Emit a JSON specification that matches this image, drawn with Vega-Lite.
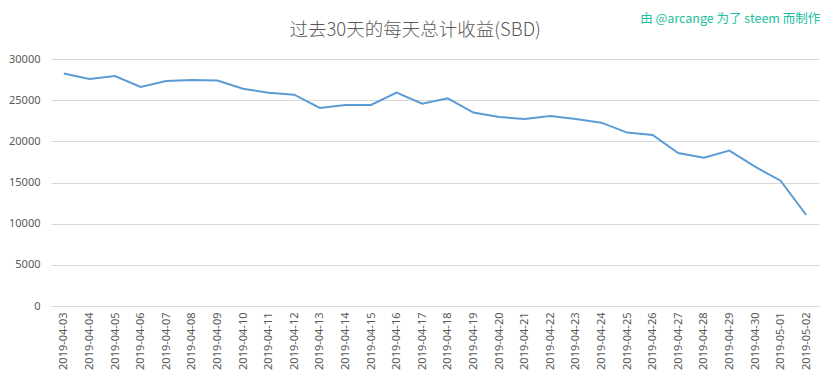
{
  "$schema": "https://vega.github.io/schema/vega-lite/v6.json",
  "width": 768,
  "height": 247,
  "autosize": {"type": "none"},
  "padding": {"left": 51, "top": 59, "right": 14, "bottom": 73},
  "background": "white",
  "config": {
    "view": {"stroke": null},
    "axis": {
      "labelFont": "Noto Sans",
      "labelFontSize": 11,
      "labelColor": "#595959",
      "ticks": false,
      "title": null,
      "gridColor": "#d9d9d9",
      "domainColor": "#d9d9d9"
    }
  },
  "datasets": {
    "earn": [
      {"date": "2019-04-03", "sbd": 28250},
      {"date": "2019-04-04", "sbd": 27570},
      {"date": "2019-04-05", "sbd": 27940},
      {"date": "2019-04-06", "sbd": 26600},
      {"date": "2019-04-07", "sbd": 27330},
      {"date": "2019-04-08", "sbd": 27450},
      {"date": "2019-04-09", "sbd": 27380},
      {"date": "2019-04-10", "sbd": 26380},
      {"date": "2019-04-11", "sbd": 25900},
      {"date": "2019-04-12", "sbd": 25670},
      {"date": "2019-04-13", "sbd": 24050},
      {"date": "2019-04-14", "sbd": 24410},
      {"date": "2019-04-15", "sbd": 24410},
      {"date": "2019-04-16", "sbd": 25910},
      {"date": "2019-04-17", "sbd": 24580},
      {"date": "2019-04-18", "sbd": 25230},
      {"date": "2019-04-19", "sbd": 23490},
      {"date": "2019-04-20", "sbd": 22960},
      {"date": "2019-04-21", "sbd": 22710},
      {"date": "2019-04-22", "sbd": 23080},
      {"date": "2019-04-23", "sbd": 22710},
      {"date": "2019-04-24", "sbd": 22270},
      {"date": "2019-04-25", "sbd": 21060},
      {"date": "2019-04-26", "sbd": 20770},
      {"date": "2019-04-27", "sbd": 18580},
      {"date": "2019-04-28", "sbd": 18010},
      {"date": "2019-04-29", "sbd": 18870},
      {"date": "2019-04-30", "sbd": 16920},
      {"date": "2019-05-01", "sbd": 15220},
      {"date": "2019-05-02", "sbd": 11050}
    ],
    "note": [
      {"text": "由 @arcange 为了 steem 而制作"}
    ],
    "heading": [
      {"text": "过去30天的每天总计收益(SBD)"}
    ]
  },
  "layer": [
    {
      "data": {"name": "earn"},
      "mark": {"type": "line", "color": "#5b9bd5", "strokeWidth": 2},
      "encoding": {
        "x": {
          "field": "date",
          "type": "ordinal",
          "scale": {"type": "point", "padding": 0.5},
          "axis": {"labelAngle": -90, "labelPadding": 6, "grid": false, "domain": true}
        },
        "y": {
          "field": "sbd",
          "type": "quantitative",
          "scale": {"domain": [0, 30000]},
          "axis": {"values": [0, 5000, 10000, 15000, 20000, 25000, 30000], "format": "d", "domain": false, "labelPadding": 11, "grid": true}
        }
      }
    },
    {
      "data": {"name": "heading"},
      "mark": {
        "type": "text",
        "align": "center",
        "baseline": "alphabetic",
        "dx": -7,
        "font": "Noto Sans CJK SC",
        "fontSize": 18.5,
        "fontWeight": 300,
        "color": "#595959"
      },
      "encoding": {
        "x": {"datum": "2019-04-17", "type": "ordinal"},
        "y": {"datum": 32750, "type": "quantitative"},
        "text": {"field": "text"}
      }
    },
    {
      "data": {"name": "note"},
      "mark": {
        "type": "text",
        "align": "right",
        "baseline": "alphabetic",
        "dx": 14,
        "font": "Noto Sans CJK SC",
        "fontSize": 12.5,
        "color": "#20c0a0"
      },
      "encoding": {
        "x": {"datum": "2019-05-02", "type": "ordinal"},
        "y": {"datum": 34400, "type": "quantitative"},
        "text": {"field": "text"}
      }
    }
  ]
}
